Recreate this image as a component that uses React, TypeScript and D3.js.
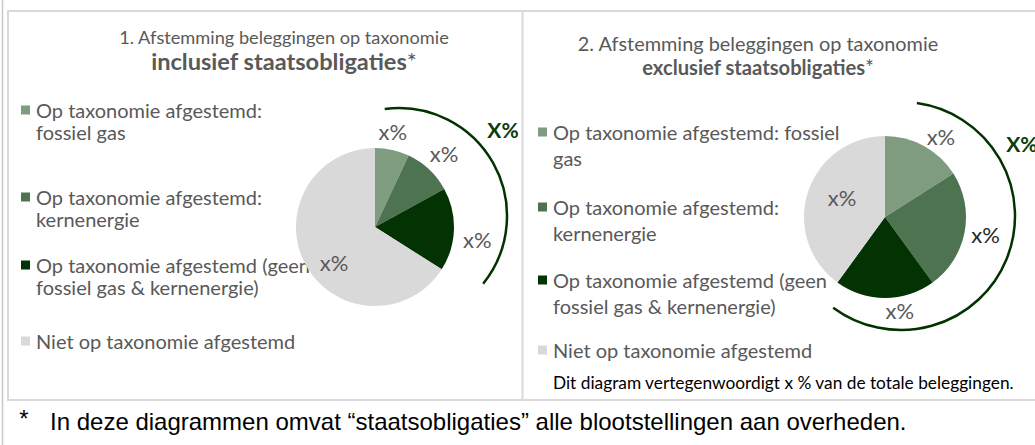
import React from "react";
import * as d3 from "d3";

// ---- data ----
const categories = [
  "Op taxonomie afgestemd: fossiel gas",
  "Op taxonomie afgestemd: kernenergie",
  "Op taxonomie afgestemd (geen fossiel gas & kernenergie)",
  "Niet op taxonomie afgestemd",
];
const legendLinesIncl = [
  ["Op taxonomie afgestemd:", "fossiel gas"],
  ["Op taxonomie afgestemd:", "kernenergie"],
  ["Op taxonomie afgestemd (geen", "fossiel gas & kernenergie)"],
  ["Niet op taxonomie afgestemd"],
];
const legendLinesExcl = [
  ["Op taxonomie afgestemd: fossiel", "gas"],
  ["Op taxonomie afgestemd:", "kernenergie"],
  ["Op taxonomie afgestemd (geen", "fossiel gas & kernenergie)"],
  ["Niet op taxonomie afgestemd"],
];
const inclValues = [7, 10, 17, 66];
const exclValues = [16, 24, 20, 40];
const sliceLabels = ["x%", "x%", "x%", "x%"];
const alignedTotalLabel = "X%";
const colors = ["#7f9c80", "#4e7350", "#033203", "#d9d9d9"];
const titleLine1 = [
  "1. Afstemming beleggingen op taxonomie",
  "2. Afstemming beleggingen op taxonomie",
];
const titleBold = ["inclusief staatsobligaties", "exclusief staatsobligaties"];
const noteText = "Dit diagram vertegenwoordigt x % van de totale beleggingen.";
const footnoteText =
  "In deze diagrammen omvat \u201cstaatsobligaties\u201d alle blootstellingen aan overheden.";

const FONT = "Lato, 'Open Sans', sans-serif";
const GRAY = "#595959";
const DARK = "#0b3d0b";
const deg = Math.PI / 180;

type PanelCfg = {
  values: number[];
  legend: string[][];
  title1: string;
  titleB: string;
  titleX: number;
  title1Y: number;
  title2Y: number;
  title1Size: number;
  title2Size: number;
  cx: number;
  cy: number;
  r: number;
  labelR: number[];
  labelOff: number[];
  labelColors: string[];
  bracket: { cx: number; cy: number; r: number; a0: number; a1: number };
  totalPos: { a: number; r: number };
  legendX: number;
  legendY: number[];
  lineGap: number;
};

function Panel({ cfg }: { cfg: PanelCfg }) {
  const pie = d3.pie<number>().sort(null).value((d) => d);
  const arcs = pie(cfg.values);
  const arcGen = d3.arc<d3.PieArcDatum<number>>().innerRadius(0).outerRadius(cfg.r);
  const b = cfg.bracket;
  const p = d3.path();
  p.arc(b.cx, b.cy, b.r, b.a0 * deg - Math.PI / 2, b.a1 * deg - Math.PI / 2, false);
  const tx = b.cx + cfg.totalPos.r * Math.sin(cfg.totalPos.a * deg);
  const ty = b.cy - cfg.totalPos.r * Math.cos(cfg.totalPos.a * deg);
  return (
    <g>
      <text x={cfg.titleX} y={cfg.title1Y} textAnchor="middle" dominantBaseline="central"
        fontFamily={FONT} fontSize={cfg.title1Size} fill={GRAY}>{cfg.title1}</text>
      <text x={cfg.titleX} y={cfg.title2Y} textAnchor="middle" dominantBaseline="central"
        fontFamily={FONT} fontSize={cfg.title2Size} fill={GRAY}>
        <tspan fontWeight="bold">{cfg.titleB}</tspan>
        <tspan>*</tspan>
      </text>
      {cfg.legend.map((lines, i) => (
        <g key={i}>
          <rect x={cfg.legendX} y={cfg.legendY[i] - 4.5} width={9} height={9} fill={colors[i]} />
          <text fontFamily={FONT} fontSize={20} fill={GRAY} dominantBaseline="central">
            {lines.map((ln, j) => (
              <tspan key={j} x={cfg.legendX + 15} y={cfg.legendY[i] + j * cfg.lineGap}>{ln}</tspan>
            ))}
          </text>
        </g>
      ))}
      <g transform={`translate(${cfg.cx},${cfg.cy})`}>
        {arcs.map((a, i) => (
          <path key={i} d={arcGen(a) || ""} fill={colors[i]} />
        ))}
        {arcs.map((a, i) => {
          const mid = (a.startAngle + a.endAngle) / 2 + cfg.labelOff[i] * deg;
          const lr = cfg.labelR[i];
          return (
            <text key={i} x={lr * Math.sin(mid)} y={-lr * Math.cos(mid)} textAnchor="middle"
              dominantBaseline="central" fontFamily={FONT} fontSize={22} fill={cfg.labelColors[i]}>
              {sliceLabels[i]}
            </text>
          );
        })}
      </g>
      <path d={p.toString()} fill="none" stroke="#003300" strokeWidth={2.5} />
      <text x={tx} y={ty} textAnchor="middle" dominantBaseline="central" fontFamily={FONT}
        fontSize={21} fontWeight="bold" fill={DARK}>{alignedTotalLabel}</text>
    </g>
  );
}

export default function App() {
  const p1: PanelCfg = {
    values: inclValues,
    legend: legendLinesIncl,
    title1: titleLine1[0],
    titleB: titleBold[0],
    titleX: 284,
    title1Y: 37,
    title2Y: 61,
    title1Size: 18.2,
    title2Size: 23.6,
    cx: 375,
    cy: 227,
    r: 79,
    labelR: [97, 101, 103, 54],
    labelOff: [-2, 0, 5, -12],
    labelColors: [GRAY, GRAY, GRAY, GRAY],
    bracket: { cx: 399, cy: 216, r: 108, a0: -7.6, a1: 128.8 },
    totalPos: { a: 50.4, r: 135 },
    legendX: 21,
    legendY: [110, 197, 265, 341],
    lineGap: 21.5,
  };
  const p2: PanelCfg = {
    values: exclValues,
    legend: legendLinesExcl,
    title1: titleLine1[1],
    titleB: titleBold[1],
    titleX: 758,
    title1Y: 43,
    title2Y: 67,
    title1Size: 19.9,
    title2Size: 20.2,
    cx: 885,
    cy: 217,
    r: 81,
    labelR: [98, 102, 95, 47],
    labelOff: [6, -1, -9, 6],
    labelColors: [GRAY, "#262626", GRAY, GRAY],
    bracket: { cx: 901, cy: 216, r: 114, a0: 8, a1: 216.5 },
    totalPos: { a: 59, r: 141 },
    legendX: 538,
    legendY: [132, 207, 280, 350],
    lineGap: 25.5,
  };
  return (
    <svg width={1035} height={445} style={{ position: "absolute", left: 0, top: 0, background: "#fff" }}>
      <rect x={0} y={0} width={1035} height={445} fill="#fff" />
      {/* frames */}
      <line x1={2.5} y1={0} x2={2.5} y2={445} stroke="#c8c8c8" strokeWidth={1.5} />
      <rect x={8} y={11} width={1040} height={389} fill="none" stroke="#d9d9d9" strokeWidth={2} />
      <line x1={522.5} y1={11} x2={522.5} y2={400} stroke="#d9d9d9" strokeWidth={2} />
      <Panel cfg={p1} />
      <Panel cfg={p2} />
      <text x={553} y={382} dominantBaseline="central" fontFamily={FONT} fontSize={17.3} fill="#000">
        {noteText}
      </text>
      <text x={24} y={418} textAnchor="middle" dominantBaseline="central"
        fontFamily="'Liberation Sans', Arial, sans-serif" fontSize={24} fill="#000">*</text>
      <text x={50} y={421} dominantBaseline="central"
        fontFamily="'Liberation Sans', Arial, sans-serif" fontSize={24} fill="#000">
        {footnoteText}
      </text>
    </svg>
  );
}
